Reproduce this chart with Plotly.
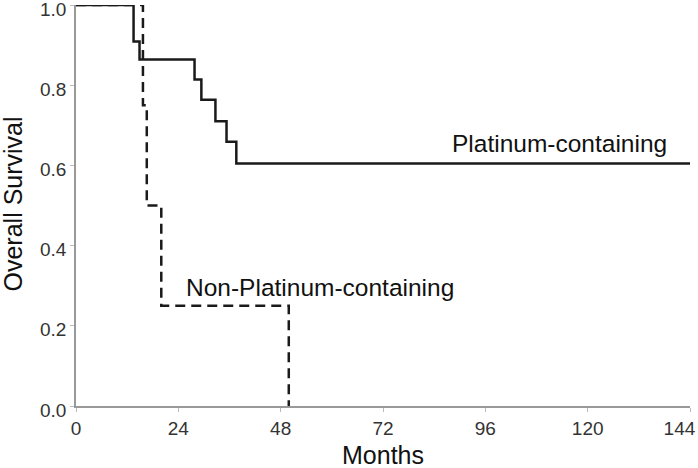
import plotly.graph_objects as go

# Kaplan-Meier step data
plat_months = [0, 13.5, 14.9, 27.8, 29.4, 32.7, 35.3, 37.6, 144]
plat_surv = [1.0, 0.909, 0.864, 0.814, 0.764, 0.71, 0.659, 0.605, 0.605]

nonplat_months = [0, 15.7, 16.6, 20.0, 49.9, 49.9]
nonplat_surv = [1.0, 0.75, 0.5, 0.25, 0.25, 0.0]

x_ticks = [0, 24, 48, 72, 96, 120, 144]
y_ticks = [0.0, 0.2, 0.4, 0.6, 0.8, 1.0]

font_name = "Liberation Sans, Arial, sans-serif"

fig = go.Figure()
fig.add_trace(go.Scatter(x=plat_months, y=plat_surv, mode="lines",
                         line=dict(color="#1a1a1a", width=2.5, shape="hv"),
                         cliponaxis=False, showlegend=False))
fig.add_trace(go.Scatter(x=nonplat_months, y=nonplat_surv, mode="lines",
                         line=dict(color="#1a1a1a", width=2.5, shape="hv", dash="10px,6px"),
                         cliponaxis=False, showlegend=False))

# curve labels
fig.add_annotation(x=113.3, y=0.654, text="Platinum-containing", showarrow=False,
                   font=dict(size=24.5, color="#111", family=font_name))
fig.add_annotation(x=57.3, y=0.296, text="Non-Platinum-containing", showarrow=False,
                   font=dict(size=24.5, color="#111", family=font_name))

# axis titles as annotations so they don't push the margins
fig.add_annotation(x=0.5, y=0, xref="paper", yref="paper", text="Months", showarrow=False,
                   yanchor="middle", yshift=-49,
                   font=dict(size=25, color="#111", family=font_name))
fig.add_annotation(x=0, y=0.5, xref="paper", yref="paper", text="Overall Survival", showarrow=False,
                   textangle=-90, xanchor="center", xshift=-64, yshift=1,
                   font=dict(size=25, color="#111", family=font_name))

# last x label sits a bit left so it stays inside the page
x_labels = [str(v) for v in x_ticks]
x_labels[-1] = x_labels[-1] + "\u00a0\u00a0\u00a0\u00a0"

fig.update_xaxes(range=[0, 144], tickvals=x_ticks, ticktext=x_labels,
                 showline=True, linecolor="#999", linewidth=1.5, showgrid=False, zeroline=False,
                 ticks="outside", ticklen=4, tickcolor="#bbb", ticklabeloverflow="allow",
                 tickfont=dict(size=19, color="#333", family=font_name), automargin=False)
fig.update_yaxes(range=[0, 1.0], tickvals=y_ticks, ticktext=["%.1f" % v for v in y_ticks],
                 showline=True, linecolor="#999", linewidth=1.5, showgrid=False, zeroline=False,
                 ticks="outside", ticklen=4, tickcolor="#bbb", ticklabeloverflow="allow",
                 ticklabelshift=4,
                 tickfont=dict(size=19, color="#333", family=font_name), automargin=False)

fig.update_layout(width=698, height=468, plot_bgcolor="white", paper_bgcolor="white",
                  margin=dict(l=76, r=8, t=5, b=62))

fig.write_html("out.html", config={"displayModeBar": False},
               post_script="document.body.style.margin='0';")
